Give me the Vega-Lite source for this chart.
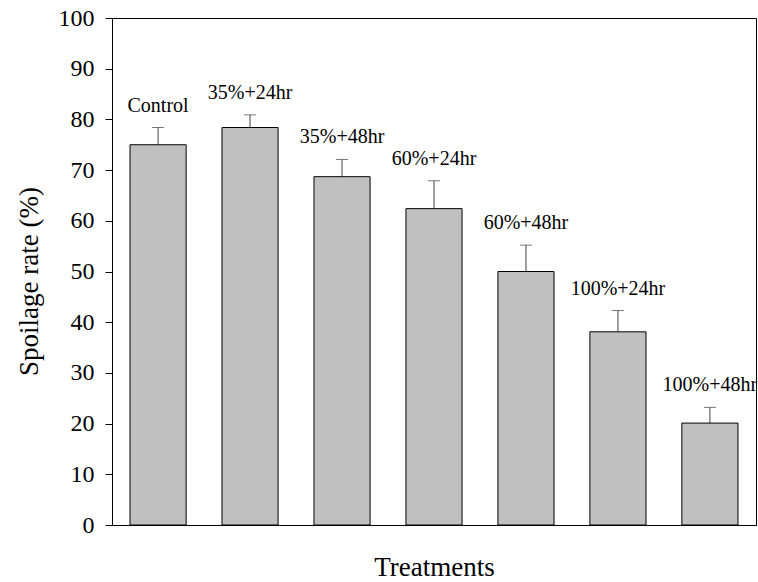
{
  "$schema": "https://vega.github.io/schema/vega-lite/v6.json",
  "width": 644,
  "height": 507,
  "autosize": {"type": "none"},
  "padding": {"left": 112, "top": 18, "right": 2, "bottom": 57},
  "background": "white",
  "config": {
    "view": {"stroke": "black", "strokeWidth": 1},
    "font": "Times New Roman, Liberation Serif, DejaVu Serif, serif",
    "axis": {"grid": false, "domainColor": "black", "tickColor": "black", "labelColor": "black", "titleColor": "black", "labelFont": "Times New Roman, Liberation Serif, DejaVu Serif, serif", "titleFont": "Times New Roman, Liberation Serif, DejaVu Serif, serif", "titleFontWeight": "normal"}
  },
  "data": {
    "values": [
      {"treatment": "Control", "rate": 75.0, "err": 78.4},
      {"treatment": "35%+24hr", "rate": 78.4, "err": 80.9},
      {"treatment": "35%+48hr", "rate": 68.7, "err": 72.1},
      {"treatment": "60%+24hr", "rate": 62.4, "err": 67.9},
      {"treatment": "60%+48hr", "rate": 50.0, "err": 55.2},
      {"treatment": "100%+24hr", "rate": 38.1, "err": 42.3},
      {"treatment": "100%+48hr", "rate": 20.1, "err": 23.2}
    ]
  },
  "encoding": {
    "x": {
      "field": "treatment", "type": "nominal", "sort": null,
      "scale": {"paddingInner": 0.39, "paddingOuter": 0.196},
      "axis": {"title": "Treatments", "labels": false, "ticks": false, "domainColor": "black", "titleFontSize": 27, "titleBaseline": "alphabetic", "titleY": 50}
    }
  },
  "layer": [
    {
      "mark": {"type": "rule", "color": "#404040", "strokeWidth": 1},
      "encoding": {
        "y": {"field": "rate", "type": "quantitative"},
        "y2": {"field": "err"}
      }
    },
    {
      "mark": {"type": "tick", "color": "#404040", "size": 12, "thickness": 1},
      "encoding": {
        "y": {"field": "err", "type": "quantitative"}
      }
    },
    {
      "mark": {"type": "bar", "fill": "#c0c0c0", "stroke": "black", "strokeWidth": 1},
      "encoding": {
        "y": {
          "field": "rate", "type": "quantitative",
          "scale": {"domain": [0, 100], "nice": false},
          "axis": {"title": "Spoilage rate (%)", "values": [0, 10, 20, 30, 40, 50, 60, 70, 80, 90, 100], "tickSize": 7, "labelPadding": 11, "labelFontSize": 24, "titleFontSize": 27, "titleAngle": -90, "titleX": -83, "titleY": 263, "titleAlign": "center", "titleBaseline": "middle"}
        }
      }
    },
    {
      "mark": {"type": "text", "fontSize": 20, "baseline": "middle", "dy": -22, "color": "black", "font": "Times New Roman, Liberation Serif, DejaVu Serif, serif"},
      "encoding": {
        "y": {"field": "err", "type": "quantitative"},
        "text": {"field": "treatment"}
      }
    }
  ]
}
